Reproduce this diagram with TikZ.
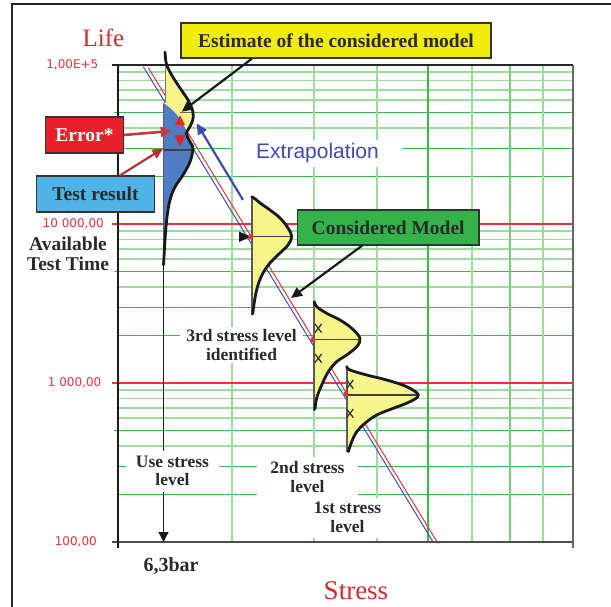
\documentclass[tikz,border=0pt]{standalone}
\usepackage{fontspec}
\setmainfont{Liberation Serif}
\newfontfamily\sansf{Liberation Sans}
\newfontfamily\tickf{DejaVu Sans}
\usetikzlibrary{arrows.meta}
\definecolor{gdark}{HTML}{3CB94A}
\definecolor{glight}{HTML}{9EDC9E}
\definecolor{redl}{HTML}{E8323C}
\definecolor{bluel}{HTML}{4050C0}
\definecolor{yellfill}{HTML}{F7F48A}
\definecolor{bluefill}{HTML}{4F7CC4}
\definecolor{boxyellow}{HTML}{F0EC0C}
\definecolor{boxred}{HTML}{E8202A}
\definecolor{boxblue}{HTML}{4FB3E8}
\definecolor{boxgreen}{HTML}{33B34A}
\definecolor{txt}{HTML}{2A2A2A}
\definecolor{titlered}{HTML}{D42A30}
\definecolor{arrred}{HTML}{C8383C}
\definecolor{arrblue}{HTML}{3E4BB2}
\begin{document}
\begin{tikzpicture}[x=1pt,y=-1pt,
 gd/.style={gdark,line width=1.1pt},
 gl/.style={glight,line width=1.8pt},
 lbl/.style={fill=white,inner sep=0pt,align=center,text=txt,font=\bfseries\fontsize{17.5}{18.5}\selectfont},
 tick/.style={anchor=east,text=redl,inner sep=0pt,font=\tickf\fontsize{12}{14}\selectfont},
 callout/.style={draw=black!80,line width=1.2pt,inner sep=0pt,font=\bfseries\fontsize{19.5}{20}\selectfont,text=txt},
 outl/.style={line width=2.8pt,black!90,line join=round,line cap=round},
 peak/.style={line width=1.2pt,black!75},
 basel/.style={line width=1.8pt,black!65},
 arr/.style={line width=2.2pt,-{Triangle[length=11pt,width=10pt]}},
 xmark/.style={line width=1.3pt,black!80},
]
\useasboundingbox (0,0) rectangle (611,607);
% outer frame
\draw[line width=2.5pt,black!85] (12,607) -- (12,4) -- (611,4);
% horizontal grid
\foreach \b in {224,383,542}{
  \foreach \k in {4,6,7,8,9}{\draw[gl] (118,{\b-159*log10(\k)}) -- (573,{\b-159*log10(\k)});}
  \foreach \k in {2,3}{\draw[gd] (118,{\b-159*log10(\k)}) -- (573,{\b-159*log10(\k)});}
  \draw[gd] (114,{\b-159*log10(5)}) -- (573,{\b-159*log10(5)});
}
% vertical grid
\foreach \x in {232,314,377,472,543}{\draw[gl] (\x,65) -- (\x,542);}
\draw[gd] (428,65) -- (428,542);
\draw[line width=1.5pt,glight!60!gdark] (510,65) -- (510,542);
% decade lines
\draw[redl,line width=1.2pt] (112,224) -- (573,224);
\draw[redl,line width=1.2pt] (112,383) -- (573,383);
% axes
\draw[line width=1.3pt,black!85] (112,65) -- (573,65);
\draw[line width=1.3pt,black!70] (112,542) -- (573,542);
\draw[line width=1.3pt,black!90] (118,65) -- (118,548);
\draw[line width=1.5pt,black!60] (573,65) -- (573,548);
% tick labels
\node[tick] (t5) at (98.5,65) {1,00E+5};
\node[tick] (t4) at (104,224) {10 000,00};
\node[tick] (t3) at (101.5,383) {1 000,00};
\node[tick] (t2) at (97,542) {100,00};
% axis titles
\node[text=titlered,font=\fontsize{25}{28}\selectfont] (life) at (103.5,38) {Life};
\node[text=titlered,font=\fontsize{27}{30}\selectfont] (stress) at (356,591) {Stress};
\node[align=center,text=txt,font=\bfseries\fontsize{19.5}{20}\selectfont] (avail) at (68,254) {Available\\Test Time};
\node[text=txt,font=\bfseries\fontsize{20}{22}\selectfont] (bar) at (171,566) {6,3bar};
% use stress arrow
\coordinate (usetop) at (163.5,265);
\coordinate (usebot) at (163.5,542);
\draw[line width=1.3pt,black!90,-{Triangle[length=10pt,width=10pt]}] (usetop) -- (usebot);
% labels with white background
\node[fill=white,inner sep=0pt,minimum width=169pt,minimum height=27pt,text=arrblue,font=\sansf\fontsize{21}{24}\selectfont] (extra) at (317.5,153.5) {Extrapolation};
\node[lbl,minimum width=123pt,minimum height=36pt] (third) at (241.5,345) {3rd stress level\\identified};
\node[lbl,minimum width=93pt,minimum height=41pt] (use) at (172.5,471) {Use stress\\level};
\node[lbl,minimum width=101pt,minimum height=41pt] (second) at (307.5,477) {2nd stress\\level};
\node[lbl,minimum width=85pt,minimum height=40pt] (first) at (347.5,517.5) {1st stress\\level};
% model lines
\draw[bluel,line width=1pt] (143.3,66.7) -- (432.5,541);
\draw[redl,line width=1pt] (148.3,67.7) -- (436.5,541);
% distribution A (use stress level)
\fill[yellfill] plot[smooth,tension=0.6] coordinates {(165,52) (165.5,58) (166.7,65) (171.7,75) (180,88) (188,100) (193,112) (192,122) (187,130) (182,138) (175,148) (168,158) (165,165)} -- cycle;
\fill[bluefill] plot[smooth,tension=0.6] coordinates {(163.5,103) (170,108) (177,115) (183,124) (187.5,133) (191.5,143) (193,150) (190,162) (183,175) (175,187) (170,200) (167,217) (165,240) (164,257) (163.5,265)} -- cycle;
\draw[line width=0.8pt,black!55] (165,52) -- (165,103);
\draw[basel] (163.5,103) -- (163.5,265);
\draw[peak] (163.5,150) -- (193,150);
\draw[peak,black!60] (180,112.5) -- (193,112.5);
\draw[outl] plot[smooth,tension=0.6] coordinates {(165,52) (165.5,58) (166.7,65) (171.7,75) (180,88) (188,100) (193,112) (192.5,121) (188.5,129) (186.5,133.5) (189,140) (192.5,146) (193,150) (190,162) (183,175) (175,187) (170,200) (167,217) (165,240) (164,257) (163.5,265)};
\fill[boxred] (175,125) -- (185,125) -- (180,115.5) -- cycle;
\fill[boxred] (174.5,135) -- (185.5,135) -- (180,146.5) -- cycle;
% distribution C
\fill[yellfill] plot[smooth,tension=0.6] coordinates {(251.7,196.7) (256,199.5) (260,203) (270,210) (280,218) (288,228) (291.7,236.7) (288,245) (280,253) (270,263) (263,273) (258,285) (255,298) (252.7,314)} -- cycle;
\draw[basel] (251.7,196.7) -- (251.7,315);
\draw[peak] (251.7,236.7) -- (291.5,236.7);
\draw[outl] plot[smooth,tension=0.6] coordinates {(251.7,196.7) (256,199.5) (260,203) (270,210) (280,218) (288,228) (291.7,236.7) (288,245) (280,253) (270,263) (263,273) (258,285) (255,298) (252.7,314)};
\fill[black!90] (239,231.5) -- (239,242) -- (251,236.7) -- cycle;
\fill[redl] (250.7,236.7) circle (2.5);
% distribution D
\fill[yellfill] plot[smooth,tension=0.6] coordinates {(314.3,301.7) (316.7,306.7) (326.7,313.3) (340,320) (351.7,328.3) (360,338.3) (356.7,346.7) (346.7,355) (336.7,361.7) (328.3,371.7) (321.7,385) (316.7,398) (315,409)} -- cycle;
\draw[basel] (314.3,301.7) -- (314.3,411);
\draw[peak] (314.3,339.5) -- (360,339.5);
\draw[outl] plot[smooth,tension=0.6] coordinates {(314.3,301.7) (316.7,306.7) (326.7,313.3) (340,320) (351.7,328.3) (360,338.3) (356.7,346.7) (346.7,355) (336.7,361.7) (328.3,371.7) (321.7,385) (316.7,398) (315,409)};
\draw[xmark] (315,324) -- (321.6,332.6) (321.6,324) -- (315,332.6);
\draw[xmark] (315,354) -- (321.6,362.6) (321.6,354) -- (315,362.6);
\fill[redl] (312.7,340) circle (2.5);
% distribution E
\fill[yellfill] plot[smooth,tension=0.6] coordinates {(346.7,366.7) (350,370) (366.7,375) (386.7,380) (406.7,386.7) (418.3,395) (410,401.7) (393.3,408.3) (376.7,415) (365,423.3) (356.7,431.7) (351.7,441.7) (348.3,451.7)} -- cycle;
\draw[basel] (346.7,366.7) -- (346.7,452);
\draw[peak] (346.7,395) -- (418,395);
\draw[outl] plot[smooth,tension=0.6] coordinates {(346.7,366.7) (350,370) (366.7,375) (386.7,380) (406.7,386.7) (418.3,395) (410,401.7) (393.3,408.3) (376.7,415) (365,423.3) (356.7,431.7) (351.7,441.7) (348.3,451.7)};
\draw[xmark] (346.7,380) -- (353.3,388.6) (353.3,380) -- (346.7,388.6);
\draw[xmark] (346.7,409) -- (353.3,417.6) (353.3,409) -- (346.7,417.6);
\fill[redl] (346,394) circle (2.5);
% callout boxes
\node[callout,fill=boxyellow,minimum width=310pt,minimum height=35pt] (est) at (336,40.5) {Estimate of the considered model};
\node[callout,fill=boxred,text=white,minimum width=77.6pt,minimum height=36pt] (err) at (84.5,135) {Error*};
\node[callout,fill=boxblue,minimum width=117.6pt,minimum height=36pt] (test) at (95.5,194) {Test result};
\node[callout,fill=boxgreen,minimum width=181.7pt,minimum height=35pt] (cm) at (388.2,227.5) {Considered Model};
% arrows
\coordinate (esttip) at (181.7,111.7);
\coordinate (errtip) at (171.7,131);
\coordinate (testtip) at (163.3,148.3);
\coordinate (cmtip) at (291,298);
\coordinate (extstart) at (243,200);
\coordinate (exttip) at (196.7,123.3);
\draw[arr,black!90] ([xshift=-84pt]est.south) -- (esttip);
\draw[arr,arrred,line width=2.6pt] (err.east) -- (errtip);
\draw[arr,arrred!90!black] ([xshift=24.5pt]test.north) -- (testtip);
\draw[arr,black!90] ([xshift=-26pt]cm.south) -- (cmtip);
\draw[arr,arrblue] (extstart) -- (exttip);
\end{tikzpicture}
\end{document}
